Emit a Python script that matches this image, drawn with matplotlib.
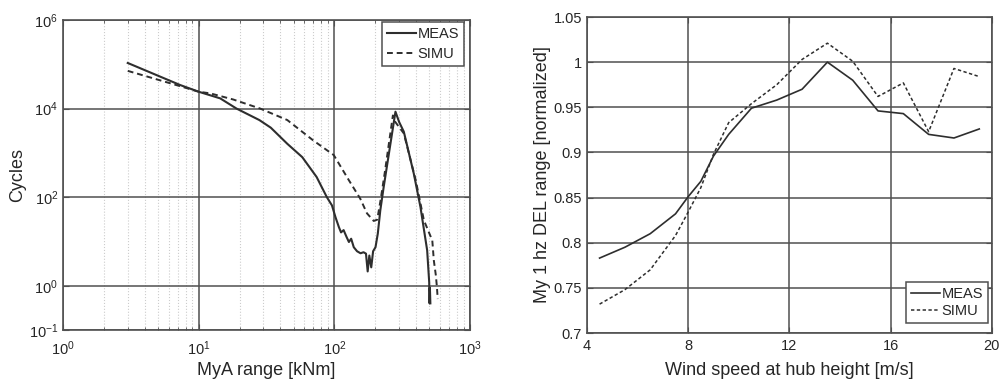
"""
Rainflow spectrum and 1 Hz DEL vs wind speed, MEAS vs SIMU.
"""
import matplotlib
matplotlib.use("Agg")
import matplotlib.pyplot as plt
from matplotlib.ticker import FixedLocator, FormatStrFormatter, LogLocator, NullFormatter

plt.rcParams["font.family"] = ["Liberation Sans", "DejaVu Sans"]
plt.rcParams["axes.unicode_minus"] = False

# left panel: cycle counts vs MyA range (log-log)
meas_range = [3, 7.3, 10, 14.4, 19, 28, 34, 45, 58, 74, 88, 96, 102, 108, 112, 117,
              123, 128, 133, 139, 147, 156, 164, 171, 176, 181, 187, 193, 201, 209,
              218, 231, 282, 300, 325, 385, 431, 483, 500, 503, 506, 510]
meas_cycles = [1.07e5, 3.4e4, 2.4e4, 1.7e4, 1.0e4, 5.5e3, 3.7e3, 1.6e3, 800, 285, 100,
               65, 35, 21, 16, 18, 12.6, 9.7, 11.5, 7.4, 6.0, 5.4, 5.7, 5.3, 2.1, 4.8,
               2.6, 6.0, 7.4, 15, 50, 170, 8.5e3, 5.0e3, 3.0e3, 340, 60, 6.3, 1.2,
               0.4, 0.9, 0.4]

simu_range = [3, 7.3, 10, 12.2, 18, 28.4, 45, 70, 99, 128, 155, 174, 195, 207, 219,
              235, 270, 281, 325, 398, 457, 527, 541, 560, 570, 578]
simu_cycles = [7.1e4, 3.2e4, 2.4e4, 2.2e4, 1.6e4, 1.0e4, 5.5e3, 1.9e3, 890, 240, 93,
               43, 29, 31, 85, 350, 7.0e3, 5.0e3, 2.75e3, 240, 30, 10.5, 3.7, 1.7,
               0.93, 0.5]

# right panel: normalized DEL vs wind speed
wind_speed = [4.5, 5.5, 6.5, 7.5, 8.0, 8.5, 9.0, 9.6, 10.5, 11.5, 12.5, 13.5, 14.5,
              15.5, 16.5, 17.5, 18.5, 19.5]
del_meas = [0.783, 0.795, 0.810, 0.832, 0.851, 0.868, 0.896, 0.920, 0.949, 0.958,
            0.970, 1.000, 0.980, 0.946, 0.943, 0.920, 0.916, 0.926]
del_simu = [0.732, 0.748, 0.770, 0.808, 0.834, 0.861, 0.898, 0.933, 0.954, 0.975,
            1.003, 1.021, 1.001, 0.962, 0.977, 0.923, 0.993, 0.984]

LINE = "#2e2e2e"
GRID = "#505050"
TEXT = "#262626"


def style_axes(ax, xpad):
    for sp in ax.spines.values():
        sp.set_color(GRID)
        sp.set_linewidth(1.2)
    ax.tick_params(which="both", direction="in", colors=GRID, labelcolor=TEXT,
                   labelsize=10.5, top=True, right=True)
    ax.tick_params(which="major", length=4)
    ax.tick_params(which="minor", length=2.5)
    ax.tick_params(axis="x", pad=xpad)


def legend(ax, loc, anchor, spacing):
    leg = ax.legend(loc=loc, bbox_to_anchor=anchor, fontsize=10.5, frameon=True,
                    fancybox=False, framealpha=1, borderaxespad=0, handlelength=2.0,
                    handletextpad=0.1, borderpad=0.35, labelspacing=spacing)
    leg.get_frame().set_edgecolor(GRID)
    leg.get_frame().set_linewidth(1.1)
    for t in leg.get_texts():
        t.set_color(TEXT)


fig = plt.figure(figsize=(10.05, 3.83), dpi=100)

ax1 = fig.add_axes([0.0627, 0.1384, 0.405, 0.8094])
ax1.plot(meas_range, meas_cycles, color=LINE, lw=1.5, label="MEAS")
ax1.plot(simu_range, simu_cycles, color=LINE, lw=1.4, ls=(0, (3, 2)), label="SIMU")
ax1.set_xscale("log")
ax1.set_yscale("log")
ax1.set_xlim(1, 1000)
ax1.set_ylim(1e-1, 1e6)
ax1.yaxis.set_major_locator(FixedLocator([1e-1, 1e0, 1e2, 1e4, 1e6]))
ax1.yaxis.set_minor_locator(FixedLocator([]))
ax1.xaxis.set_minor_locator(LogLocator(base=10, subs=range(2, 10)))
ax1.xaxis.set_minor_formatter(NullFormatter())
ax1.grid(which="major", color=GRID, lw=1.1)
ax1.grid(which="minor", axis="x", color="#cccccc", lw=0.8, ls=":")
ax1.set_axisbelow(True)
style_axes(ax1, 7)
ax1.set_xlabel("MyA range [kNm]", fontsize=13, color=TEXT, labelpad=3)
ax1.set_ylabel("Cycles", fontsize=13, color=TEXT, labelpad=2)
legend(ax1, "upper right", (0.985, 0.993), 0.4)

ax2 = fig.add_axes([0.584, 0.1305, 0.403, 0.8251])
ax2.plot(wind_speed, del_meas, color=LINE, lw=1.2, label="MEAS")
ax2.plot(wind_speed, del_simu, color=LINE, lw=1.1, ls=(0, (2.2, 1.6)), label="SIMU")
ax2.set_xlim(4, 20)
ax2.set_ylim(0.7, 1.05)
ax2.set_xticks([4, 8, 12, 16, 20])
ax2.set_yticks([0.7, 0.75, 0.8, 0.85, 0.9, 0.95, 1.0, 1.05])
ax2.yaxis.set_major_formatter(FormatStrFormatter("%g"))
ax2.grid(which="major", color=GRID, lw=1.1)
ax2.set_axisbelow(True)
style_axes(ax2, 4)
ax2.set_xlabel("Wind speed at hub height [m/s]", fontsize=13, color=TEXT, labelpad=7)
ax2.set_ylabel("My 1 hz DEL range [normalized]", fontsize=13, color=TEXT, labelpad=2)
legend(ax2, "lower right", (0.99, 0.032), 0.2)

fig.savefig("out.png", dpi=100)
